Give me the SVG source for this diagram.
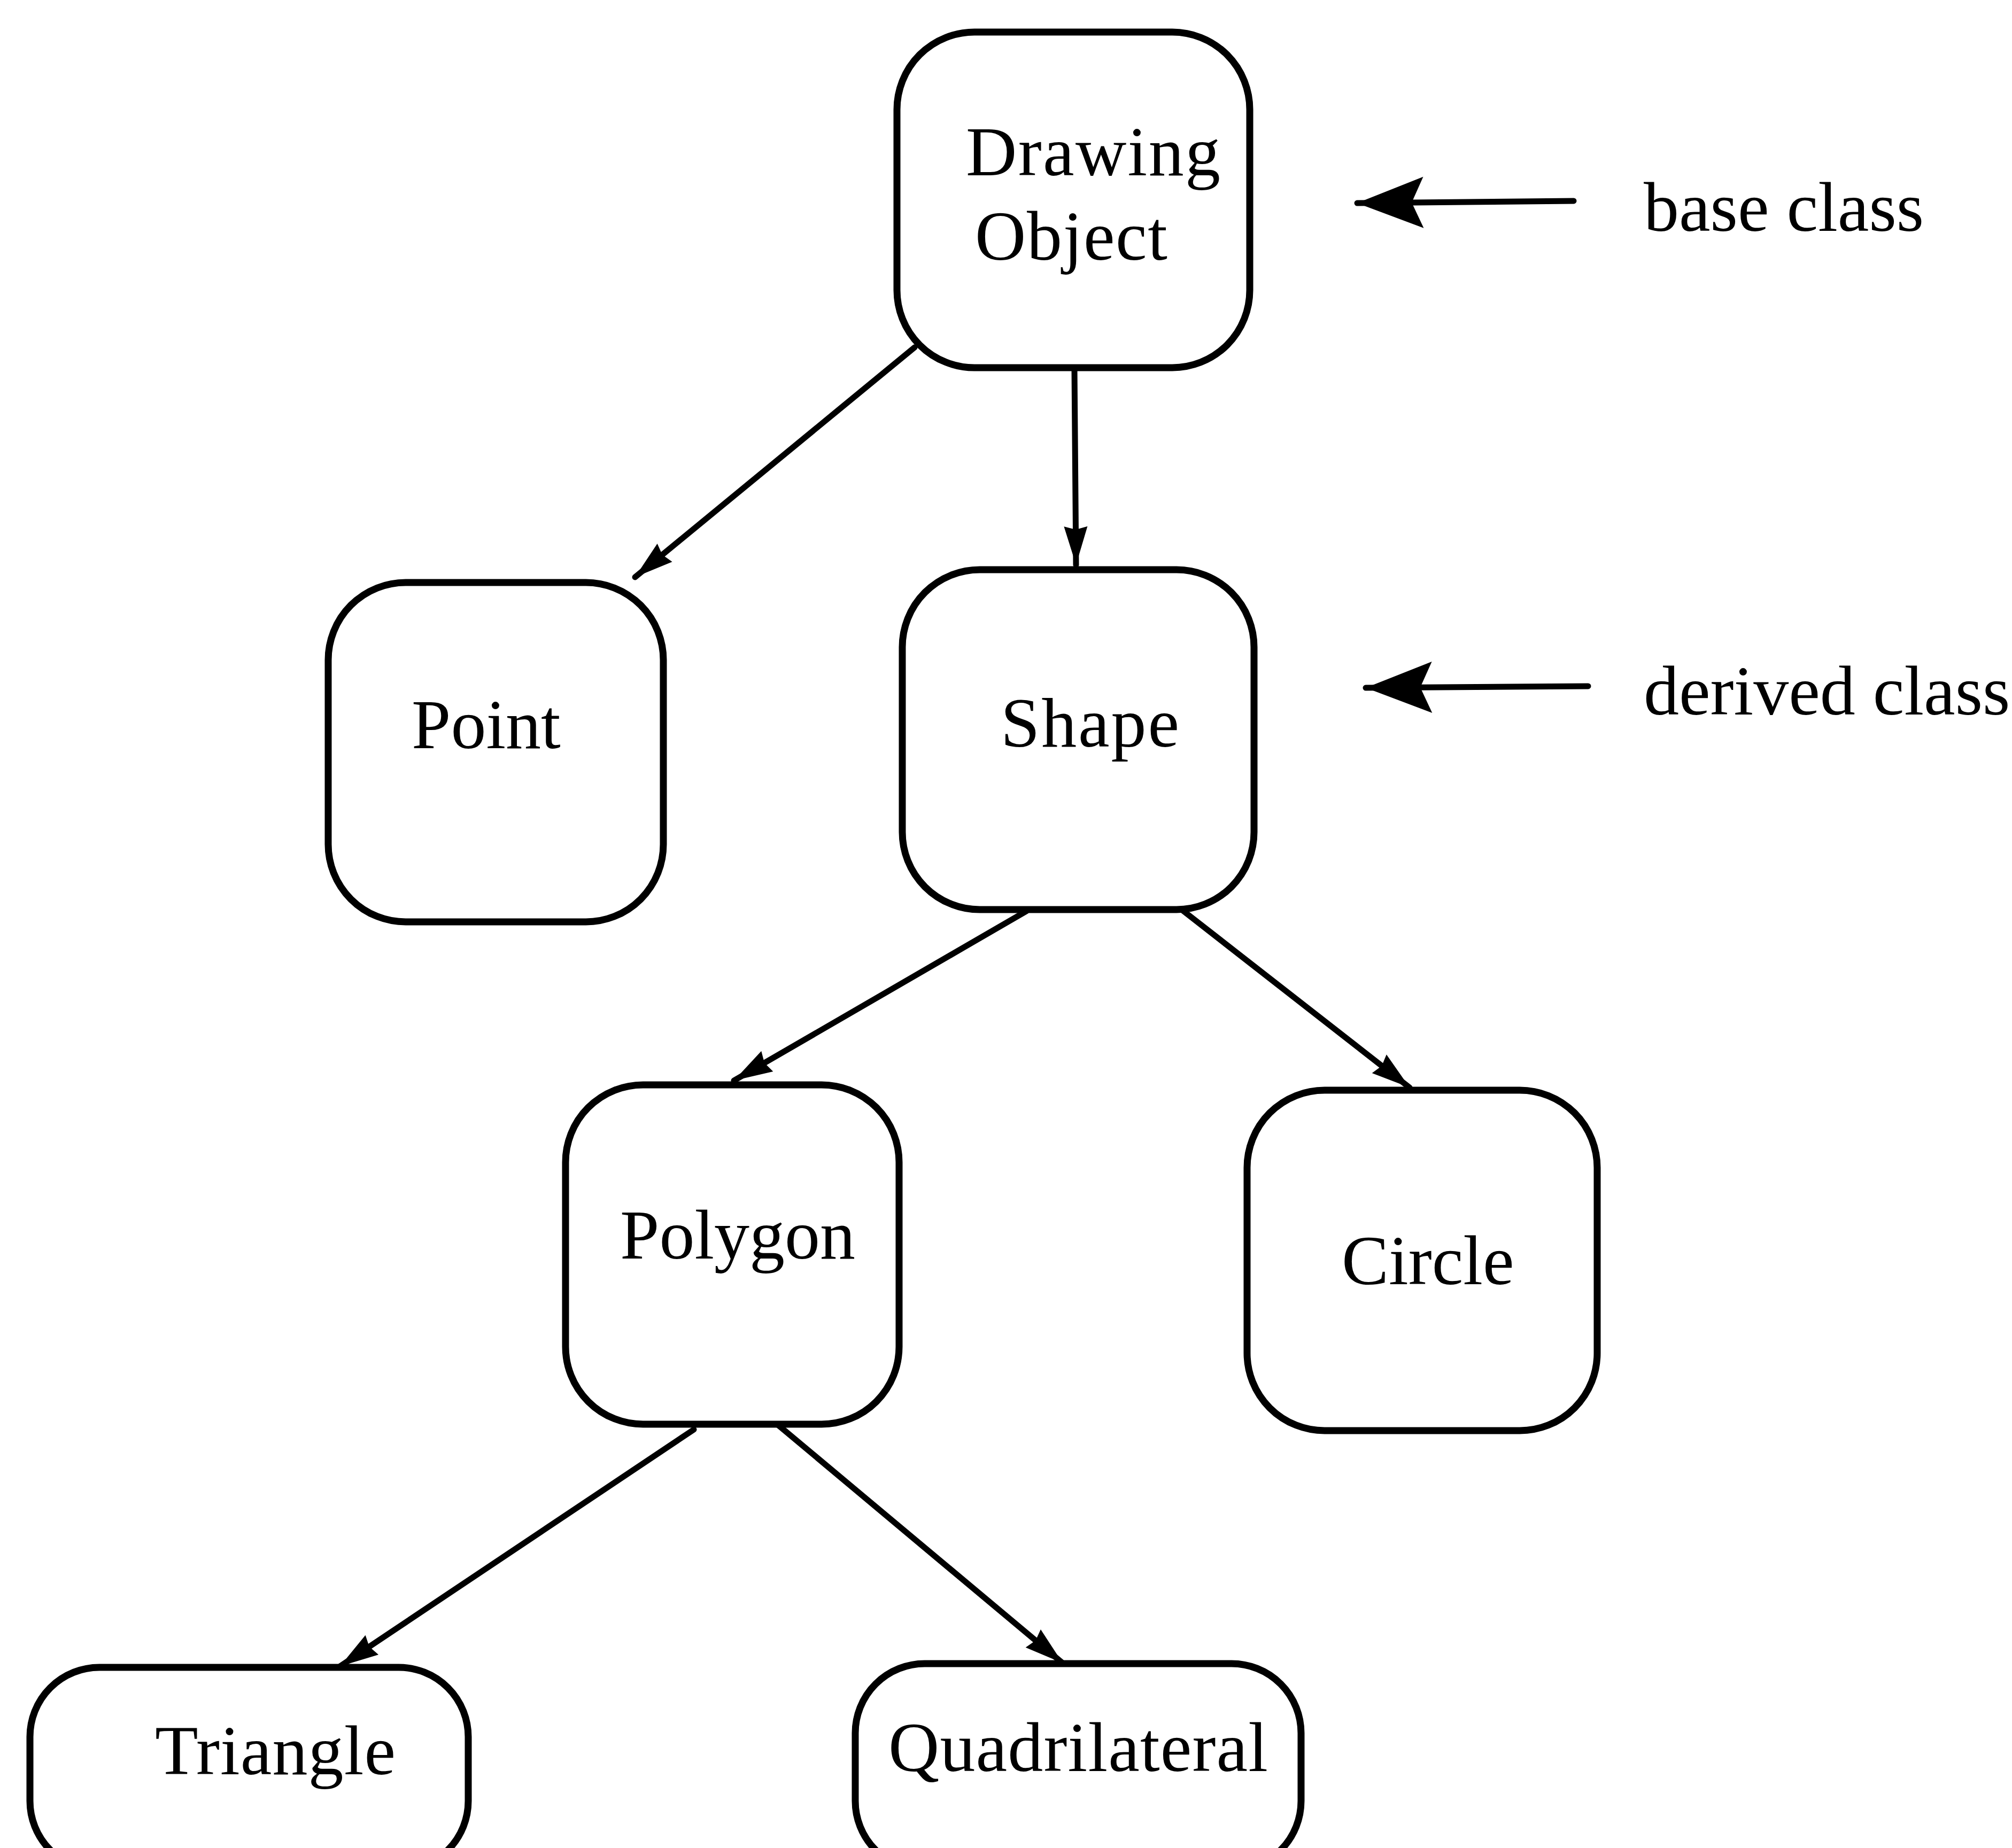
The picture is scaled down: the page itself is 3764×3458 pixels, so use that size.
<svg xmlns="http://www.w3.org/2000/svg" width="3764" height="3458" viewBox="0 0 3764 3458">
  <style>
    .box { fill: #ffffff; stroke: #000000; stroke-width: 13; }
    .lbl { font-family: "Liberation Serif", "Times New Roman", serif; font-size: 132px; fill: #000000; }
    .edge { stroke: #000000; stroke-width: 11; fill: none; stroke-linecap: round; }
  </style>
  <defs>
    <!-- small solid head used on the hierarchy connectors -->
    <marker id="head" markerUnits="userSpaceOnUse" viewBox="-80 -32 85 64" markerWidth="85" markerHeight="64" refX="0" refY="0" orient="auto">
      <path d="M0,0 L-72,-22 L-66,0 L-72,22 Z" fill="#000000"/>
    </marker>
    <!-- larger notched head used on the legend arrows -->
    <marker id="legendHead" markerUnits="userSpaceOnUse" viewBox="-135 -55 140 110" markerWidth="140" markerHeight="110" refX="0" refY="0" orient="auto">
      <path d="M0,0 L-124,-48 L-102,0 L-124,48 Z" fill="#000000"/>
    </marker>
  </defs>

  <rect width="3764" height="3458" fill="#ffffff"/>

  <!-- connectors -->
  <g id="connectors">
    <line class="edge" x1="1711" y1="650" x2="1188" y2="1080" marker-end="url(#head)"/>
    <line class="edge" x1="2010" y1="690" x2="2013" y2="1057" marker-end="url(#head)"/>
    <line class="edge" x1="1920" y1="1705" x2="1373" y2="2022" marker-end="url(#head)"/>
    <line class="edge" x1="2204" y1="1697" x2="2637" y2="2035" marker-end="url(#head)"/>
    <line class="edge" x1="1298" y1="2675" x2="636" y2="3118" marker-end="url(#head)"/>
    <line class="edge" x1="1449" y1="2661" x2="1988" y2="3112" marker-end="url(#head)"/>
  </g>

  <!-- nodes -->
  <g id="drawing-object">
    <rect class="box" x="1678" y="60" width="660" height="628" rx="145" ry="145"/>
    <text class="lbl" x="1807" y="328" textLength="476" lengthAdjust="spacing">Drawing</text>
    <text class="lbl" x="1824" y="486" textLength="360" lengthAdjust="spacing">Object</text>
  </g>
  <g id="point">
    <rect class="box" x="614" y="1090" width="627" height="635" rx="145" ry="145"/>
    <text class="lbl" x="770" y="1400">Point</text>
  </g>
  <g id="shape">
    <rect class="box" x="1688" y="1066" width="658" height="636" rx="145" ry="145"/>
    <text class="lbl" x="1872" y="1397" textLength="334" lengthAdjust="spacing">Shape</text>
  </g>
  <g id="polygon">
    <rect class="box" x="1058" y="2030" width="624" height="635" rx="145" ry="145"/>
    <text class="lbl" x="1160" y="2355">Polygon</text>
  </g>
  <g id="circle">
    <rect class="box" x="2333" y="2040" width="655" height="637" rx="145" ry="145"/>
    <text class="lbl" x="2510" y="2403">Circle</text>
  </g>
  <g id="triangle">
    <rect class="box" x="56" y="3120" width="820" height="380" rx="130" ry="130"/>
    <text class="lbl" x="290" y="3320" textLength="450" lengthAdjust="spacing">Triangle</text>
  </g>
  <g id="quadrilateral">
    <rect class="box" x="1600" y="3113" width="834" height="387" rx="130" ry="130"/>
    <text class="lbl" x="1662" y="3314" textLength="710" lengthAdjust="spacing">Quadrilateral</text>
  </g>

  <!-- legend -->
  <g id="legend">
    <line class="edge" x1="2944" y1="376" x2="2539" y2="380" marker-end="url(#legendHead)"/>
    <text class="lbl" x="3075" y="432">base class</text>
    <line class="edge" x1="2971" y1="1284" x2="2555" y2="1287" marker-end="url(#legendHead)"/>
    <text class="lbl" x="3075" y="1337">derived class</text>
  </g>
</svg>
